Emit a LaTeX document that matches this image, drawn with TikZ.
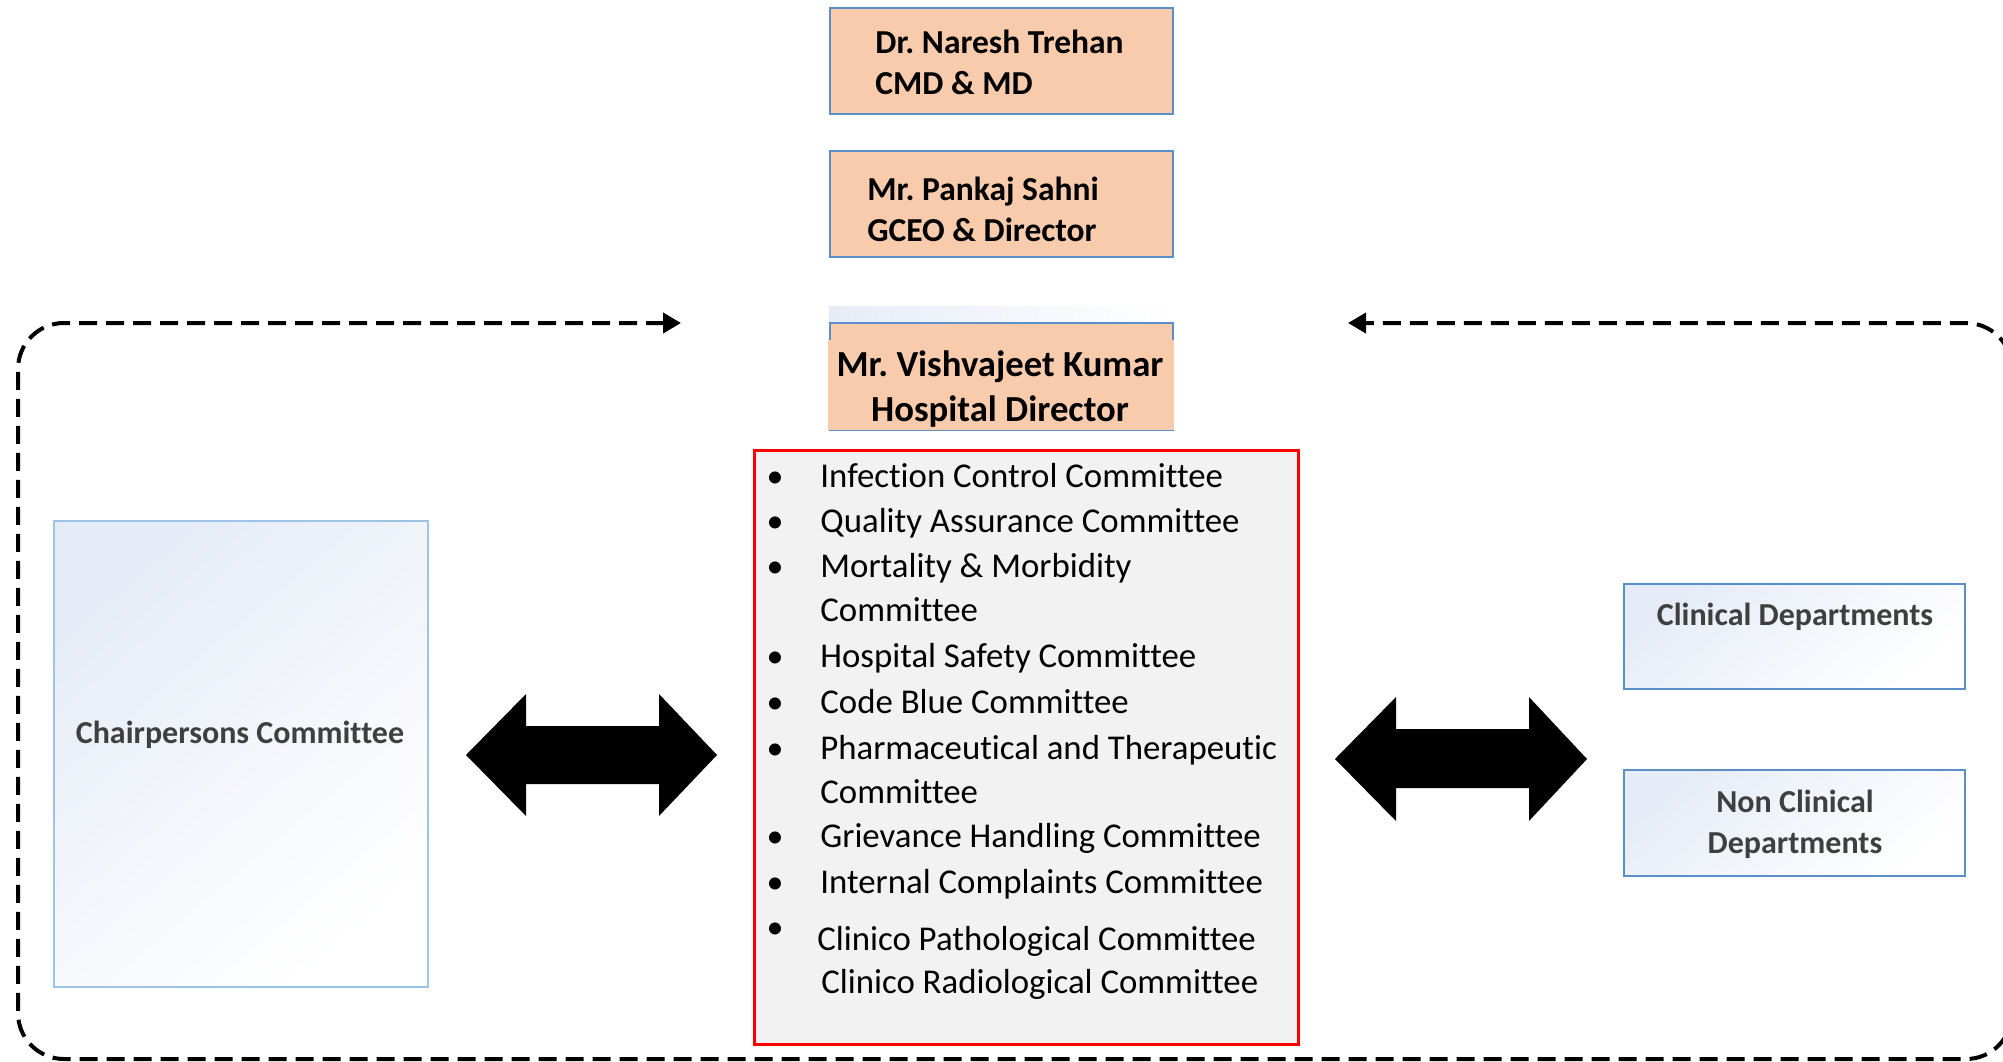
\documentclass[tikz,border=0pt]{standalone}
\usepackage{fontspec}
\setmainfont[Ligatures={NoCommon}]{Carlito}
\frenchspacing
\usetikzlibrary{arrows.meta}
\definecolor{orangefill}{HTML}{F8CBAD}
\definecolor{boxblue}{HTML}{5B8FC9}
\definecolor{lightblue}{HTML}{9DC3E6}
\definecolor{gradblue}{HTML}{E6ECF7}
\definecolor{listgray}{HTML}{F2F2F2}
\definecolor{darktext}{HTML}{3F3F3F}
\begin{document}
\begin{tikzpicture}[x=0.5pt,y=-0.5pt,
  orangebox/.style={draw=boxblue, line width=1.2pt, fill=orangefill, minimum width=171.5pt, minimum height=53pt, inner sep=0pt},
  gradfill/.style={top color=gradblue, bottom color=white, shading angle=40},
  deptbox/.style={draw=boxblue, line width=1.2pt, gradfill, minimum width=170.5pt, minimum height=53pt, inner sep=0pt},
  toptext/.style={font=\fontsize{16.75pt}{20.5pt}\selectfont\bfseries, align=left, inner sep=0pt},
  sidetext/.style={font=\fontsize{16pt}{20.5pt}\selectfont\bfseries, text=darktext, align=center, inner sep=0pt},
  item/.style={font=\fontsize{17.4pt}{20pt}\selectfont, anchor=west, inner sep=0pt, text height=12.75pt, text depth=4.25pt},
  bul/.style={font=\fontsize{17pt}{20pt}\selectfont, inner sep=0pt, text height=12.75pt, text depth=4.25pt},
  loop/.style={line width=2pt, dash pattern=on 9pt off 4.5pt, rounded corners=23pt},
  bigarrow/.style={fill=black, draw=none}
]
\useasboundingbox (0,0) rectangle (2003,1061);

% dashed feedback loop
\coordinate (la) at (681,323);
\coordinate (c1) at (18,323);
\coordinate (c2) at (18,1059);
\coordinate (c3) at (2012,1059);
\coordinate (c4) at (2012,323);
\coordinate (ra) at (1348,323);
\draw[loop, {Triangle[length=9pt,width=10pt]}-{Triangle[length=9pt,width=10pt]}]
  (la) -- (c1) -- (c2) -- (c3) -- (c4) -- (ra);

% top boxes
\node[orangebox] (cmd) at (1001.5,61) {};
\node[toptext, anchor=west] (cmdt) at (875,62) {Dr. Naresh Trehan\\CMD \& MD};
\node[orangebox] (gceo) at (1001.5,204) {};
\node[toptext, anchor=west] (gceot) at (867,209) {Mr. Pankaj Sahni\\GCEO \& Director};

\shade[left color=gradblue, right color=white, draw=none] (829,306) rectangle (1173,322);
\node[orangebox, minimum height=53.5pt] (hd) at (1001.5,376.5) {};
\fill[orangefill] (828,340) rectangle (1174,430);
\node[font=\fontsize{18.35pt}{22.5pt}\selectfont\bfseries, align=center, inner sep=0pt] (hdt) at (1000,389.5) {Mr. Vishvajeet Kumar\\Hospital Director};

% committees list
\node[draw=red, line width=1.5pt, fill=listgray, minimum width=272pt, minimum height=297pt, inner sep=0pt] (list) at (1026,747) {};
\foreach \y/\t [count=\i] in {479/Infection Control Committee, 524/Quality Assurance Committee, 569/Mortality \& Morbidity, 659/Hospital Safety Committee, 705/Code Blue Committee, 751/Pharmaceutical and Therapeutic, 839/Grievance Handling Committee, 885/Internal Complaints Committee}{
  \node[bul] (b\i) at (775,\y) {\textbullet};
  \node[item] (t\i) at (820,\y) {\t};
}
\node[item] (t3b) at (820,613) {Committee};
\node[item] (t6b) at (820,795) {Committee};
\node[bul] (b9) at (775,930) {\textbullet};
\node[item] (t9) at (817,942) {Clinico Pathological Committee};
\node[item] (t10) at (821,985) {Clinico Radiological Committee};

% chairpersons
\node[draw=lightblue, line width=0.8pt, gradfill, minimum width=187pt, minimum height=233pt, inner sep=0pt] (chair) at (241,754) {};
\node[sidetext] (chairt) at (240,735) {Chairpersons Committee};

% departments
\node[deptbox, minimum height=52.5pt] (clin) at (1794.5,636.5) {};
\node[sidetext] (clint) at (1795,617) {Clinical Departments};
\node[deptbox] (nonclin) at (1794.5,823) {};
\node[sidetext] (nonclint) at (1795,824) {Non Clinical\\Departments};

% big double arrows
\fill[bigarrow] (466,755) -- (526,694) -- (526,726) -- (659,726) -- (659,694) -- (717,755)
  -- (659,816) -- (659,784) -- (526,784) -- (526,816) -- cycle;
\fill[bigarrow] (1335,759) -- (1396,697) -- (1396,729) -- (1529,729) -- (1529,697) -- (1587,759)
  -- (1529,821) -- (1529,788) -- (1396,788) -- (1396,821) -- cycle;
\end{tikzpicture}
\end{document}
